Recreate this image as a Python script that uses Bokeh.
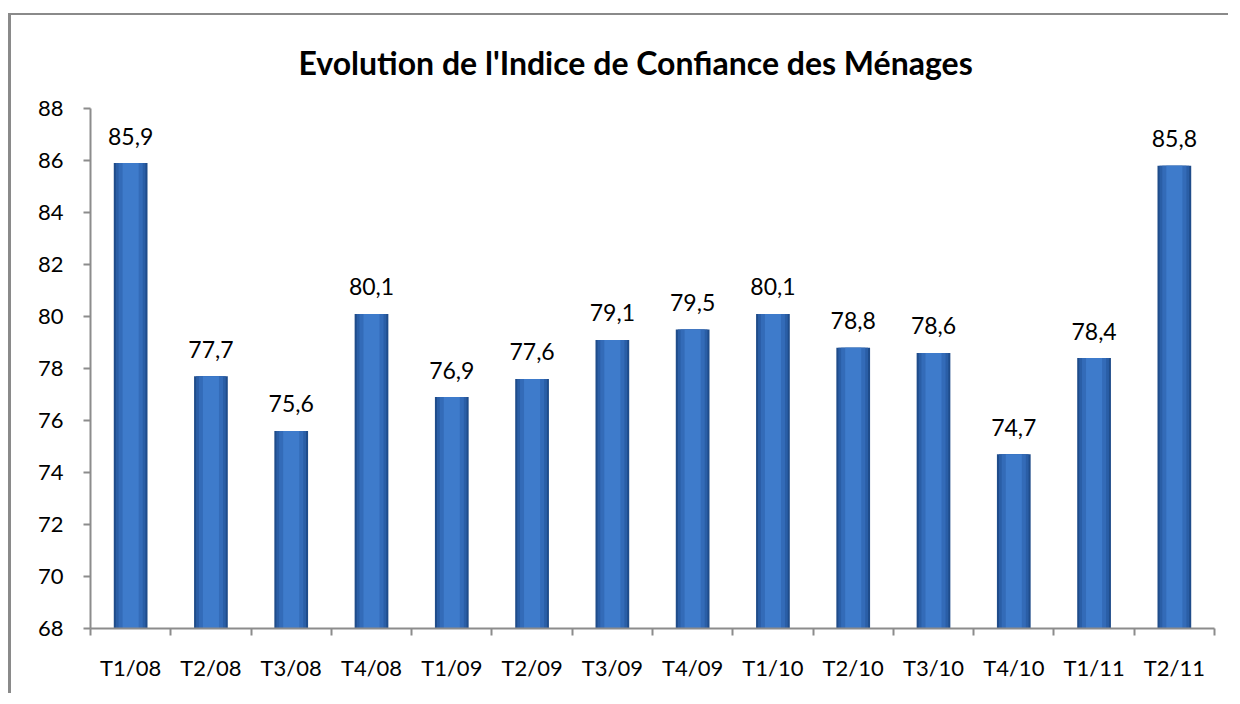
from bokeh.plotting import figure
from bokeh.models import FixedTicker, Range1d, ColumnDataSource
from bokeh.embed import file_html
from bokeh.resources import INLINE
from bokeh.core.properties import value

categories = ["T1/08", "T2/08", "T3/08", "T4/08", "T1/09", "T2/09", "T3/09",
              "T4/09", "T1/10", "T2/10", "T3/10", "T4/10", "T1/11", "T2/11"]
values = [85.9, 77.7, 75.6, 80.1, 76.9, 77.6, 79.1, 79.5, 80.1, 78.8, 78.6, 74.7, 78.4, 85.8]
y_ticks = [68, 70, 72, 74, 76, 78, 80, 82, 84, 86, 88]
title_text = "Evolution de l'Indice de Confiance des Ménages"

xs = [i + 0.5 for i in range(len(categories))]
labels = [f"{v:.1f}".replace(".", ",") for v in values]
src = ColumnDataSource(dict(x=xs, top=values, label=labels))

FONT = "Lato"
AX = "#8c8c8c"

p = figure(width=1220, height=680, output_backend="svg", toolbar_location=None,
           x_range=Range1d(0, len(categories)), y_range=Range1d(68, 88),
           min_border_left=79, min_border_right=17, min_border_top=93, min_border_bottom=67)
p.styles = {"border-left": "3px solid #8a8a8a", "border-top": "2px solid #8a8a8a",
            "margin-top": "13px", "margin-left": "8px"}
p.outline_line_color = None
p.xgrid.visible = False
p.ygrid.visible = False

p.title.text = title_text
p.title.text_font = FONT
p.title.text_font_size = "32px"
p.title.text_font_style = "bold"
p.title.text_color = "#000000"
p.title.vertical_align = "top"
p.title.align = "left"
p.title.standoff = 50
p.title.offset = 208

bottom = 68
for w, c in [(0.42, "#1f4c8a"), (0.37, "#2a5ea6"), (0.30, "#336bb8"), (0.20, "#3e7bcb")]:
    p.vbar(x="x", top="top", bottom=bottom, width=w, source=src, fill_color=c, line_color=None)

p.text(x="x", y="top", text="label", source=src, text_font=value(FONT), text_font_size="23px",
       text_align="center", text_baseline="alphabetic", y_offset=-27, text_color="#000000")

# x axis
p.xaxis.ticker = FixedTicker(ticks=xs, minor_ticks=list(range(len(categories) + 1)))
p.xaxis.major_label_overrides = {x: c for x, c in zip(xs, categories)}
p.xaxis.major_tick_line_color = None
p.xaxis.minor_tick_in = 0
p.xaxis.minor_tick_out = 7
p.xaxis.minor_tick_line_color = AX
p.xaxis.axis_line_color = AX
p.xaxis.major_label_text_font = FONT
p.xaxis.major_label_text_font_size = "22px"
p.xaxis.major_label_text_color = "#000000"
p.xaxis.major_label_standoff = 18

# y axis
p.yaxis.ticker = FixedTicker(ticks=y_ticks, minor_ticks=[])
p.yaxis.major_tick_in = 0
p.yaxis.major_tick_out = 7
p.yaxis.major_tick_line_color = AX
p.yaxis.minor_tick_line_color = None
p.yaxis.axis_line_color = AX
p.yaxis.major_label_text_font = FONT
p.yaxis.major_label_text_font_size = "22px"
p.yaxis.major_label_text_color = "#000000"
p.yaxis.major_label_standoff = 20

for ax in (p.xaxis, p.yaxis):
    ax.axis_line_width = 2
    ax.major_tick_line_width = 2
    ax.minor_tick_line_width = 2

open("out.html", "w").write(file_html(p, INLINE))
